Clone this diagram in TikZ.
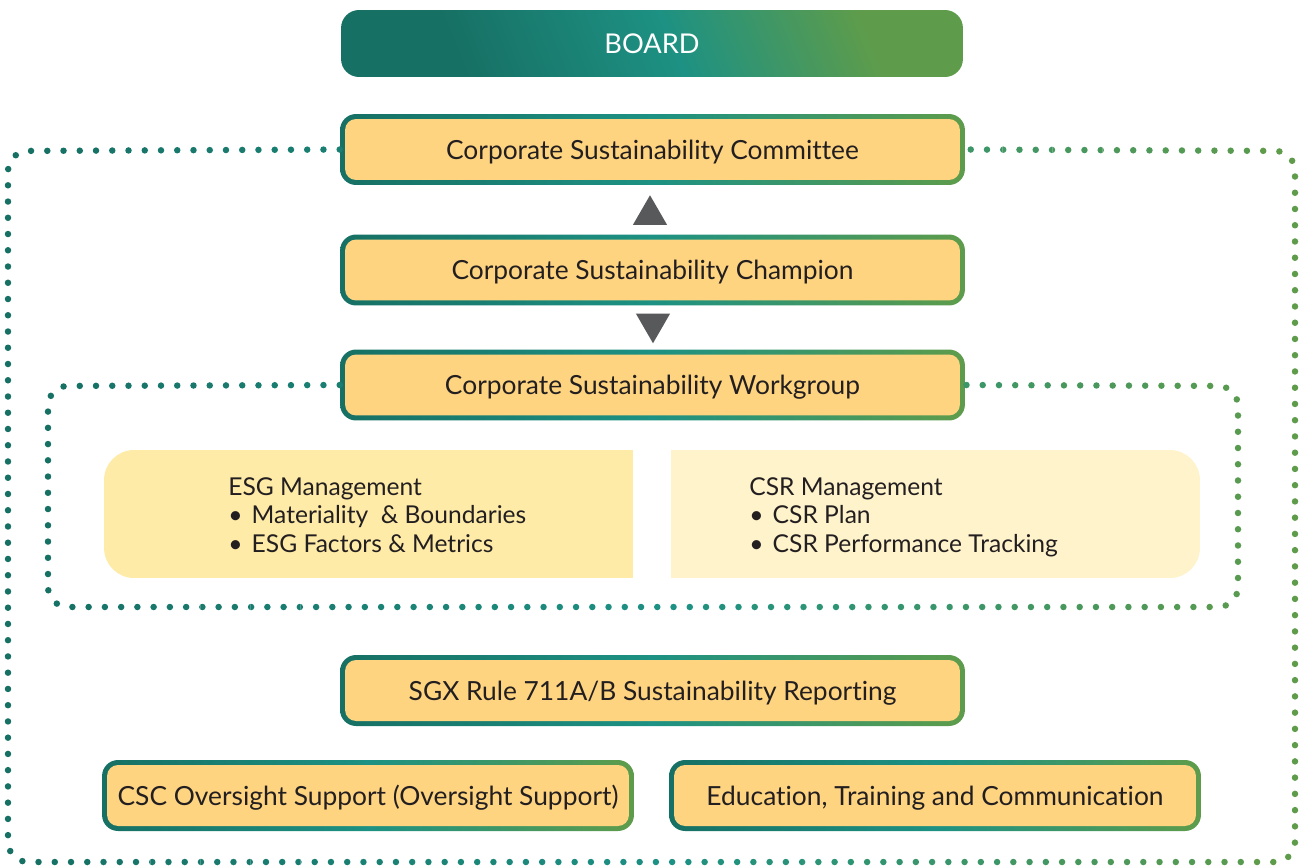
\documentclass[tikz,border=0pt]{standalone}
\usepackage{fontspec}
\setmainfont{Lato}[Ligatures=NoCommon]
\usetikzlibrary{shapes.geometric}

\definecolor{tealdk}{HTML}{177064}
\definecolor{tealmd}{HTML}{1D9183}
\definecolor{grn}{HTML}{5E9C4B}
\definecolor{stagefill}{HTML}{FED480}
\definecolor{esgfill}{HTML}{FFEBA8}
\definecolor{csrfill}{HTML}{FFF3CC}
\definecolor{ink}{HTML}{231F20}
\definecolor{arrowgray}{HTML}{58595B}

\pgfdeclarehorizontalshading{boardshade}{100bp}{color(0bp)=(tealdk);
  color(30bp)=(tealdk); color(52bp)=(tealmd); color(72bp)=(grn);
  color(100bp)=(grn)}

\begin{document}
\begin{tikzpicture}[x=0.02cm, y=-0.02cm,
    stage/.style={minimum width=12.5cm, minimum height=1.42cm, inner sep=0pt,
      rounded corners=0.32cm, left color=tealdk, right color=grn,
      middle color=tealmd, text=ink, text depth=0pt,
      font=\fontsize{15}{17}\selectfont,
      path picture={\fill[stagefill, rounded corners=0.22cm]
        ([shift={(0.1cm,-0.1cm)}]path picture bounding box.north west) rectangle
        ([shift={(-0.1cm,0.1cm)}]path picture bounding box.south east);}},
    halfstage/.style={stage, minimum width=10.64cm},
    board/.style={minimum width=12.44cm, minimum height=1.34cm, inner sep=0pt,
      rounded corners=0.36cm, shading=boardshade, shading angle=22,
      text=white, font=\fontsize{15.5}{17}\selectfont},
    panel/.style={minimum width=10.58cm, minimum height=2.56cm, inner sep=0pt,
      rounded corners=0.6cm},
    listtxt/.style={anchor=west, align=left, inner sep=0pt, text=ink,
      font=\fontsize{14}{16.2}\selectfont},
    tri/.style={regular polygon, regular polygon sides=3, minimum size=0.79cm,
      inner sep=0pt, fill=arrowgray},
    dots/.style={line width=0.13cm, line cap=round,
      dash pattern=on 0pt off 0.325cm, rounded corners=0.4cm}]
  \useasboundingbox (0,0) rectangle (1303,866);

  % board and stages
  \node[board] (board) at (652,43.5) {BOARD};
  \node[stage] (csc) at (652.5,149.5) {Corporate Sustainability Committee};
  \node[stage] (champ) at (652.5,270) {Corporate Sustainability Champion};
  \node[stage] (wg) at (652.5,385) {Corporate Sustainability Workgroup};
  \node[stage] (sgx) at (652.5,690.5) {SGX Rule 711A/B Sustainability Reporting};
  \node[halfstage] (oversight) at (368,795.5) {CSC Oversight Support (Oversight Support)};
  \node[halfstage] (edu) at (935,795.5) {Education, Training and Communication};

  % triangles
  \node[tri] (up) at (650,215) {};
  \node[tri, shape border rotate=180] (down) at (653,323.5) {};

  % workgroup panels
  \node[panel, fill=esgfill] (esg) at (368.5,514) {};
  \fill[esgfill] (esg.north) rectangle (esg.south east);
  \node[panel, fill=csrfill] (csr) at (935.5,514) {};
  \fill[csrfill] (csr.north west) rectangle (csr.south);
  \node[listtxt] (esgtxt) at (228,515) {ESG Management\\
    \makebox[0.95em][l]{\textbullet}Materiality\ \ \& Boundaries\\
    \makebox[0.95em][l]{\textbullet}ESG Factors \& Metrics};
  \node[listtxt] (csrtxt) at (749,517) {CSR Management\\
    \makebox[0.95em][l]{\textbullet}CSR Plan\\
    \makebox[0.95em][l]{\textbullet}CSR Performance Tracking};

  % dotted loops, coloured strip by strip
  \foreach \i in {0,...,25} {
    \pgfmathtruncatemacro\p{\i<13 ? \i*100/13 : (\i-13)*100/12}
    \ifnum\i<13 \colorlet{dotc}{tealmd!\p!tealdk}\else\colorlet{dotc}{grn!\p!tealmd}\fi
    \begin{scope}
      \clip ({\i*50.12},0) rectangle ({(\i+1)*50.12},866);
      \draw[dots, dotc] (csc.west) -- (8,151) -- (8,862) -- (1295,862)
        -- (1295,151) -- (csc.east);
      \draw[dots, dotc] (wg.west) -- (48,386) -- (48,607) -- (1238,607)
        -- (1238,386) -- (wg.east);
    \end{scope}
  }
\end{tikzpicture}
\end{document}
